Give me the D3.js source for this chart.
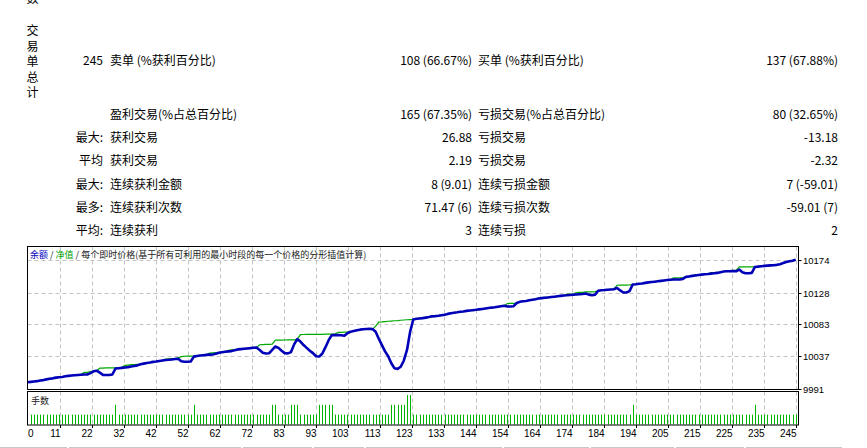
<!DOCTYPE html>
<html><head><meta charset="utf-8">
<script src="https://cdn.jsdelivr.net/npm/d3@7"></script>
<style>body{margin:0;background:#fff;}svg{display:block;}</style>
</head><body><svg id="c" width="867" height="448"></svg>
<script>
// ---------- DATA ----------
const sideTitle = ["交","易","单","总","计"];
const rowPrefixes = ["245", "", "最大:", "平均", "最大:", "最多:", "平均:"];
const leftLabels  = ["卖单 (%获利百分比)", "盈利交易(%占总百分比)", "获利交易", "获利交易", "连续获利金额", "连续获利次数", "连续获利"];
const leftValues  = ["108 (66.67%)", "165 (67.35%)", "26.88", "2.19", "8 (9.01)", "71.47 (6)", "3"];
const rightLabels = ["买单 (%获利百分比)", "亏损交易(%占总百分比)", "亏损交易", "亏损交易", "连续亏损金额", "连续亏损次数", "连续亏损"];
const rightValues = ["137 (67.88%)", "80 (32.65%)", "-13.18", "-2.32", "7 (-59.01)", "-59.01 (7)", "2"];

const legendParts = [["余额","blue"],[" / ","sep"],["净值","green"],[" / 每个即时价格(基于所有可利用的最小时段的每一个价格的分形插值计算)","sep"]];
const volumeTitle = "手数";

const yTickValues = [9991, 10037, 10083, 10128, 10174];
const xTickLabels = ["0","11","22","32","42","52","62","72","83","93","103","113","123","133","144","154","164","174","184","194","205","215","225","235","245"];

// balance (blue), trade 0..245
const balance = [
10000,10000.5,10001,10001.5,10002.5,10003,10004,10005,10005.5,10006.5,
10007,10007.5,10008.5,10009,10009.5,10010,10010.3,10010.7,10011,10011,
10013,10015.5,10016.4,10013.6,10010.5,10010.2,10010.2,10011,10019.5,10020,
10020.5,10021,10021.5,10022.5,10023,10024,10025.5,10026.5,10027.5,10028,
10029,10029.5,10030.3,10031,10031.6,10032,10032.5,10033,10033.5,10030,
10029.2,10029.2,10029.5,10036.5,10037.5,10038,10038.5,10039,10039.3,10039.6,
10040.5,10042,10042.8,10043.5,10044,10044.4,10045.5,10046.8,10047.2,10047.7,
10048.2,10048.6,10049.1,10049.6,10046,10042,10041,10041.3,10046,10051,
10049,10045,10041.5,10041.1,10043,10054,10061.5,10058,10053,10049,
10045,10041.5,10037,10036.6,10041,10050,10060,10067.2,10067.2,10067.2,
10067,10066.3,10070,10072,10073,10074,10075,10075.6,10076,10076.2,
10075.8,10072,10062,10053,10044,10037,10027,10020,10019,10022,
10031,10046,10072,10089.5,10090.5,10091,10091.5,10092.2,10093,10094,
10094.3,10094.8,10095.5,10096.3,10097.5,10098.5,10099.2,10099.8,10100.5,10101,
10101.8,10102.3,10102.8,10103.3,10104,10104.6,10105.2,10105.8,10106.5,10107,
10107.8,10108.4,10109,10108.2,10108,10108.5,10113,10114.7,10115.5,10116,
10117,10117.8,10118.5,10119.5,10120,10120.5,10121,10121.5,10122,10122.6,
10123.2,10123.7,10124,10124.4,10124.8,10125.2,10125.6,10126,10126.5,10125,
10124.2,10125,10130.5,10131.3,10131.6,10132,10132.4,10132.7,10134.6,10131,
10128,10128,10130,10139.4,10139.8,10140.5,10141,10141.8,10142.5,10143,
10143.5,10144,10144.6,10145.2,10145.8,10146.3,10146.5,10146.5,10146.5,10147.5,
10150.3,10151,10151.8,10152.4,10153,10153.5,10154,10154.4,10155,10155.5,
10156,10157,10158,10158.4,10158.4,10158.5,10158.4,10160.7,10157,10155.5,
10155.5,10156,10164.5,10165,10165.5,10166,10166.4,10166.8,10167,10167.5,
10168.5,10170,10171.5,10172.5,10173.5,10174.8];

// equity (green), trade 0..245
const equity = [
10000,10000.5,10001,10001.5,10002.5,10003,10004,10005,10005.5,10006.5,
10007,10007.5,10008.5,10009,10009.5,10010,10010.3,10011,10014,10014,
10015,10015.8,10016.4,10020,10020.2,10020.3,10020.4,10020.5,10020.5,10020.6,
10021,10024,10024.5,10025,10025.2,10025.4,10025.6,10026.5,10027.5,10028,
10029,10029.5,10030.3,10031,10033,10033.2,10033.4,10033.6,10034.8,10036.5,
10037,10037.2,10037.3,10037.4,10037.5,10038,10038.5,10039,10041.5,10042,
10042.3,10042.5,10042.8,10043.5,10045.5,10046,10046.2,10046.8,10047.2,10047.7,
10048.2,10048.6,10049.1,10049.6,10053.5,10053.7,10053.9,10054,10054.2,10060,
10060,10060.1,10060.2,10060.3,10060.4,10060.5,10061.5,10068,10068.1,10068.2,
10068.2,10068.3,10068.3,10068.4,10068.4,10068.5,10068.5,10068.6,10068.6,10071,
10071.2,10071.4,10071.6,10072,10073,10074,10075,10075.6,10076,10076.2,
10075.8,10080,10085.8,10086,10086.5,10087,10087.3,10087.7,10088,10088.4,
10088.8,10089.1,10089.4,10089.5,10090.5,10091,10091.5,10092.2,10093,10094,
10094.3,10094.8,10095.5,10096.3,10097.5,10098.5,10099.2,10099.8,10100.5,10101,
10101.8,10102.3,10102.8,10103.3,10104,10104.6,10105.2,10105.8,10106.5,10107,
10107.8,10108.4,10109,10112.3,10112.4,10112.5,10113,10114.7,10115.5,10116,
10117,10117.8,10118.5,10120.5,10120.8,10121,10121.2,10121.5,10122,10122.6,
10123.2,10123.7,10125.6,10125.7,10125.8,10128,10128.1,10128.2,10128.9,10129,
10129,10129.2,10130.5,10131.3,10131.6,10132,10132.4,10132.7,10138.4,10138.5,
10138.6,10138.7,10138.9,10139.4,10139.8,10140.5,10141,10141.8,10142.5,10143,
10143.5,10144,10144.6,10145.2,10145.8,10146.3,10148.9,10149,10149.1,10149.2,
10150.3,10151,10151.8,10153.6,10153.7,10153.5,10154,10154.4,10156.5,10156.6,
10156.8,10157,10158,10159.3,10159.4,10159.5,10159.6,10164.5,10164.5,10164.5,
10164.5,10164.5,10164.6,10165,10165.5,10166,10166.4,10166.8,10167,10167.5,
10168.5,10170,10171.5,10172.5,10173.5,10174.8];

// lots per trade, trades 1..245
const lots = [
1,1,1,1,1,1,1,1,1,1,
1,1,1,1,1,1,1,1,1,1,
1,1,1,1,1,1,1,2,1,1,
1,1,1,1,1,1,1,1,1,1,
1,1,1,1,1,1,1,1,1,1,
1,1,2,1,1,1,1,1,1,1,
1,1,1,1,1,1,1,1,1,1,
1,1,1,1,1,1,1,2,2,1,
1,1,1,2,2,2,1,1,1,1,
1,1,2,2,2,2,2,1,1,1,
1,1,1,1,1,1,1,1,1,1,
1,1,1,1,1,2,2,2,2,2,
3,3,1,1,1,1,1,1,1,1,
1,1,1,1,1,1,1,1,1,1,
1,1,1,1,1,1,1,1,1,1,
1,1,1,1,1,1,1,1,1,1,
1,1,1,1,1,1,1,1,1,1,
1,1,1,1,1,1,1,1,1,1,
1,1,1,1,1,1,1,1,1,1,
1,1,2,1,1,1,1,1,1,1,
1,1,1,1,1,1,1,1,1,1,
1,1,1,1,1,1,1,1,1,1,
1,1,1,1,1,1,1,1,1,1,
1,2,1,1,1,1,1,1,1,1,
1,1,1,1,1];

// ---------- LAYOUT ----------
const svg = d3.select("#c");
const FONT = "'Noto Sans CJK SC', 'Noto Sans', sans-serif";
const NUMFONT = "'Liberation Sans', Arial, sans-serif";
const L = 27.5, R = 798.5, mainTop = 246.5, mainBot = 389.5, volTop = 391.5, volBot = 425;
const plotL = 27.7, plotR = 795.7;

// side vertical title
svg.append("text").attr("x",32.5).attr("y",3).attr("text-anchor","middle")
  .attr("font-family",FONT).attr("font-size",12).text("数");
svg.selectAll("text.side").data(sideTitle).join("text").attr("class","side")
  .attr("x",32.5).attr("y",(d,i)=>35+i*15.5).attr("text-anchor","middle")
  .attr("font-family",FONT).attr("font-size",12).attr("fill","#000").text(d=>d);

const rowY = [65, 119, 142, 165, 189, 212, 235];
const tbl = svg.append("g").attr("font-family",FONT).attr("font-size",12).attr("fill","#000");
tbl.selectAll("text.pre").data(rowPrefixes).join("text").attr("class","pre")
  .attr("x",103).attr("y",(d,i)=>rowY[i]).attr("text-anchor","end").text(d=>d);
tbl.selectAll("text.ll").data(leftLabels).join("text").attr("class","ll")
  .attr("x",110).attr("y",(d,i)=>rowY[i]).text(d=>d);
tbl.selectAll("text.lv").data(leftValues).join("text").attr("class","lv")
  .attr("x",472).attr("y",(d,i)=>rowY[i]).attr("text-anchor","end").text(d=>d);
tbl.selectAll("text.rl").data(rightLabels).join("text").attr("class","rl")
  .attr("x",478).attr("y",(d,i)=>rowY[i]).text(d=>d);
tbl.selectAll("text.rv").data(rightValues).join("text").attr("class","rv")
  .attr("x",838).attr("y",(d,i)=>rowY[i]).attr("text-anchor","end").text(d=>d);

// scales
const x = d3.scaleLinear().domain([0,245]).range([plotL,plotR]);
const y = d3.scaleLinear().domain([9991,10174]).range([388.5,260.3]);
const yv = d3.scaleLinear().domain([0,3]).range([424.5,395]);

// grid
const gridX = xTickLabels.map((d,k)=>x(k*245/(xTickLabels.length-1)));
const grid = svg.append("g").attr("stroke","#c4c4c4").attr("stroke-dasharray","4,3").attr("stroke-width",1);
grid.selectAll("line.vg").data(gridX.slice(1)).join("line")
  .attr("x1",d=>Math.round(d)+0.5).attr("x2",d=>Math.round(d)+0.5).attr("y1",mainTop).attr("y2",mainBot);
grid.selectAll("line.vg2").data(gridX.slice(1)).join("line")
  .attr("x1",d=>Math.round(d)+0.5).attr("x2",d=>Math.round(d)+0.5).attr("y1",volTop).attr("y2",volBot);
grid.selectAll("line.hg").data(yTickValues.slice(1)).join("line")
  .attr("x1",L).attr("x2",R).attr("y1",d=>Math.round(y(d))+0.5).attr("y2",d=>Math.round(y(d))+0.5);

// volume bars
svg.append("g").selectAll("line").data(lots).join("line")
  .attr("x1",(d,i)=>Math.round(x(i+1))+0.5).attr("x2",(d,i)=>Math.round(x(i+1))+0.5)
  .attr("y1",yv(0)).attr("y2",d=>yv(d)).attr("stroke","#00b400").attr("stroke-width",1);

// lines
const lineGen = d3.line().x((d,i)=>x(i)).y(d=>y(d));
svg.append("path").datum(equity).attr("d",lineGen).attr("fill","none").attr("stroke","#00a800").attr("stroke-width",1.2);
svg.append("path").datum(balance).attr("d",lineGen).attr("fill","none").attr("stroke","#0000b8").attr("stroke-width",2.6).attr("stroke-linejoin","round");

// frames
svg.append("rect").attr("x",L).attr("y",mainTop).attr("width",R-L).attr("height",mainBot-mainTop).attr("fill","none").attr("stroke","#000");
svg.append("rect").attr("x",L).attr("y",volTop).attr("width",R-L).attr("height",volBot-volTop).attr("fill","none").attr("stroke","#000");

// legend
const lg = svg.append("text").attr("x",30).attr("y",258).attr("font-family",FONT).attr("font-size",9);
lg.selectAll("tspan").data(legendParts).join("tspan")
  .attr("fill",d=>d[1]==="blue"?"#0000c0":d[1]==="green"?"#00a000":"#202020").text(d=>d[0]);
svg.append("text").attr("x",31).attr("y",404).attr("font-family",FONT).attr("font-size",9).attr("fill","#202020").text(volumeTitle);

// right axis
const ya = svg.append("g").attr("font-family",NUMFONT).attr("font-size",9.5).attr("fill","#000");
ya.selectAll("line").data(yTickValues).join("line")
  .attr("x1",R).attr("x2",R+3).attr("y1",d=>Math.round(y(d))+0.5).attr("y2",d=>Math.round(y(d))+0.5).attr("stroke","#000");
ya.selectAll("text").data(yTickValues).join("text")
  .attr("x",803).attr("y",d=>y(d)+4).text(d=>d);

// bottom axis
const xa = svg.append("g").attr("font-family",NUMFONT).attr("font-size",10).attr("fill","#000");
xa.selectAll("line").data(gridX.slice(1)).join("line")
  .attr("x1",d=>Math.round(d)+0.5).attr("x2",d=>Math.round(d)+0.5).attr("y1",volBot).attr("y2",volBot+3).attr("stroke","#000");
xa.selectAll("text").data(xTickLabels).join("text")
  .attr("x",(d,k)=>k===0?28:gridX[k]+1).attr("y",437)
  .attr("text-anchor",(d,k)=>k===0?"start":"end").text(d=>d);

// bottom table edge
const segs = [[0,67],[69,241],[243,312],[314,364],[366,502],[504,589],[591,674],[676,744],[746,842]];
svg.append("g").selectAll("line").data(segs).join("line")
  .attr("x1",d=>d[0]).attr("x2",d=>d[1]).attr("y1",447.5).attr("y2",447.5).attr("stroke","#c8c8c8");
</script></body></html>
